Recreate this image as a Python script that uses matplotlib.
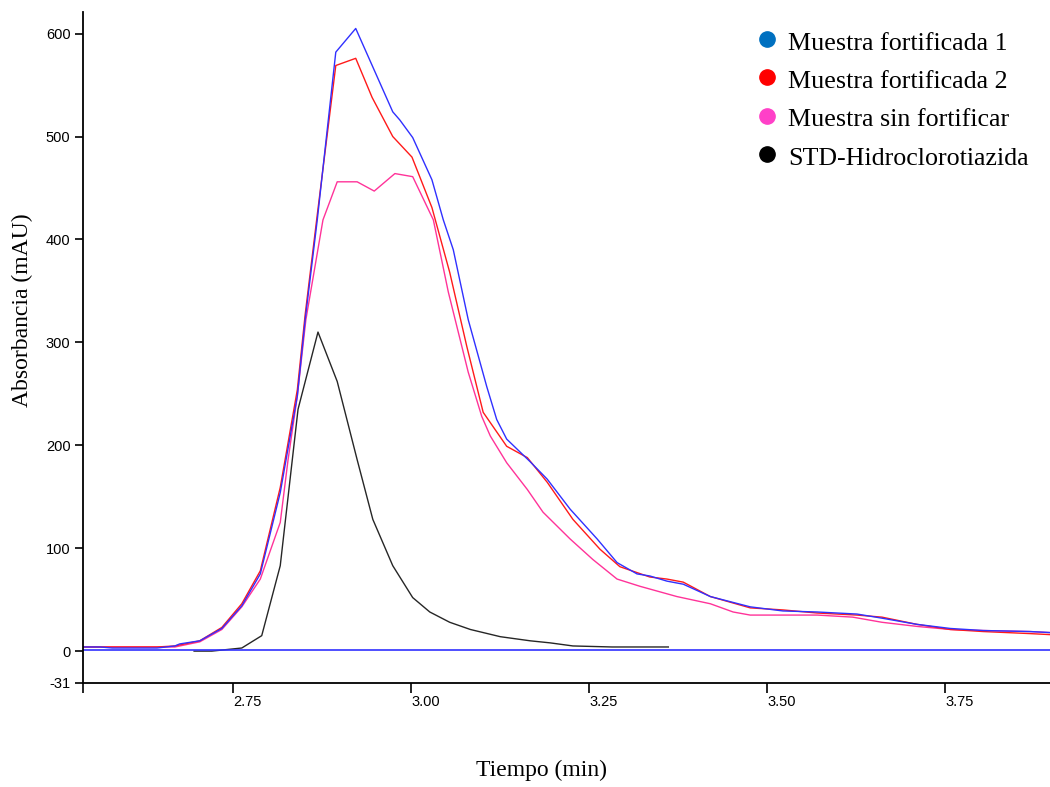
#Importaciones
import numpy as np
import matplotlib.pyplot as plt
from matplotlib.lines import Line2D

# Cromatogramas (tiempo en min, absorbancia en mAU)
t_fort1 = [2.539, 2.563, 2.580, 2.643, 2.668, 2.675, 2.703, 2.734, 2.762, 2.788, 2.816, 2.840,
           2.851, 2.868, 2.894, 2.922, 2.974, 2.984, 3.002, 3.029, 3.045, 3.059, 3.080, 3.106,
           3.120, 3.134, 3.167, 3.191, 3.223, 3.261, 3.289, 3.317, 3.335, 3.359, 3.382, 3.420,
           3.476, 3.522, 3.570, 3.626, 3.661, 3.710, 3.757, 3.803, 3.869, 3.897]
a_fort1 = [4, 4, 3, 3, 5, 7, 10, 22, 44, 75, 154, 248,
           322, 419, 582, 605, 524, 516, 499, 458, 419, 390, 322, 257,
           225, 206, 184, 167, 138, 109, 86, 75, 73, 68, 65, 53,
           43, 39, 38, 36, 32, 26, 22, 20, 19, 18]

t_fort2 = [2.539, 2.643, 2.668, 2.675, 2.703, 2.734, 2.762, 2.788, 2.816, 2.840, 2.851, 2.868,
           2.894, 2.922, 2.945, 2.974, 3.001, 3.029, 3.054, 3.078, 3.101, 3.134, 3.163, 3.191,
           3.227, 3.265, 3.293, 3.335, 3.359, 3.382, 3.420, 3.476, 3.522, 3.570, 3.626, 3.661,
           3.710, 3.757, 3.803, 3.869, 3.897]
a_fort2 = [4, 4, 5, 6, 10, 23, 46, 78, 159, 254, 327, 424,
           569, 576, 538, 500, 480, 431, 368, 296, 232, 199, 188, 164,
           128, 99, 82, 72, 70, 67, 53, 42, 40, 37, 35, 33,
           26, 21, 19, 17, 16]

t_sin = [2.539, 2.643, 2.668, 2.703, 2.734, 2.762, 2.788, 2.816, 2.827, 2.840, 2.852, 2.876,
         2.896, 2.924, 2.948, 2.977, 3.002, 3.031, 3.052, 3.080, 3.099, 3.111, 3.134, 3.163,
         3.185, 3.223, 3.255, 3.289, 3.321, 3.373, 3.420, 3.452, 3.476, 3.570, 3.620, 3.661,
         3.710, 3.757, 3.803, 3.869, 3.897]
a_sin = [4, 4, 4, 9, 21, 43, 70, 125, 186, 248, 322, 419,
         456, 456, 447, 464, 461, 419, 349, 271, 228, 209, 183, 157,
         135, 109, 89, 70, 63, 53, 46, 38, 35, 35, 33, 28,
         24, 21, 20, 19, 18]

t_std = [2.695, 2.720, 2.762, 2.790, 2.816, 2.841, 2.869, 2.896, 2.924, 2.946, 2.974, 3.002,
         3.026, 3.054, 3.083, 3.125, 3.167, 3.195, 3.227, 3.282, 3.361]
a_std = [0, 0, 3, 15, 83, 235, 310, 262, 186, 128, 83, 52,
         38, 28, 21, 14, 10, 8, 5, 4, 4]

linea_base = 1

x_ticks = [2.539, 2.75, 3.00, 3.25, 3.50, 3.75]
x_labels = ['', '2.75', '3.00', '3.25', '3.50', '3.75']
y_ticks = [-31, 0, 100, 200, 300, 400, 500, 600]

nombres = ['Muestra fortificada 1', 'Muestra fortificada 2', 'Muestra sin fortificar', 'STD-Hidroclorotiazida']
colores_leyenda = ['#0070c0', '#ff0000', '#ff40c8', '#000000']

fig = plt.figure(figsize=(10.5, 7.87), dpi=100)
ax = fig.add_axes([83 / 1050, 1 - 683 / 787, 1 - 83 / 1050, (683 - 12) / 787])

ax.plot(t_std, a_std, color='#262626', lw=1.0)
ax.plot(t_sin, a_sin, color='#ff3399', lw=1.0)
ax.plot(t_fort2, a_fort2, color='#ff1a1a', lw=1.0)
ax.plot(t_fort1, a_fort1, color='#3030ff', lw=1.0)
ax.axhline(linea_base, color='#3030ff', lw=1.2)

ax.set_xlim(2.539, 3.897)
ax.set_ylim(-31, 621)

ax.spines['top'].set_visible(False)
ax.spines['right'].set_visible(False)
ax.spines['left'].set_linewidth(1.3)
ax.spines['bottom'].set_linewidth(1.3)

ax.set_xticks(x_ticks)
ax.set_xticklabels(x_labels, fontfamily='Liberation Sans', fontsize=10.5)
ax.set_yticks(y_ticks)
ax.set_yticklabels([str(v) for v in y_ticks], fontfamily='Liberation Sans', fontsize=10.5)
ax.tick_params(axis='x', direction='out', length=7, width=1.2, pad=1.5)
ax.tick_params(axis='y', direction='out', length=6, width=1.2, pad=3)
for lab in ax.get_xticklabels():
    lab.set_ha('left')

fig.text(541 / 1050, 1 - 770 / 787, 'Tiempo (min)', ha='center', va='center',
         fontfamily='Liberation Serif', fontsize=17)
fig.text(22 / 1050, 1 - 310 / 787, 'Absorbancia (mAU)', ha='center', va='center', rotation=90,
         fontfamily='Liberation Serif', fontsize=17)

# Leyenda hecha a mano: punto de color y texto
for i, (nombre, c) in enumerate(zip(nombres, colores_leyenda)):
    y_txt = 1 - (43.5 + 38.5 * i) / 787
    y_pto = 1 - (39 + 38.3 * i) / 787
    fig.add_artist(Line2D([767 / 1050], [y_pto], marker='o', markersize=11, color=c,
                          linestyle='none', transform=fig.transFigure))
    fig.text(788 / 1050, y_txt, nombre, ha='left', va='center',
             fontfamily='Liberation Serif', fontsize=18.7)

fig.savefig('out.png', dpi=100)
